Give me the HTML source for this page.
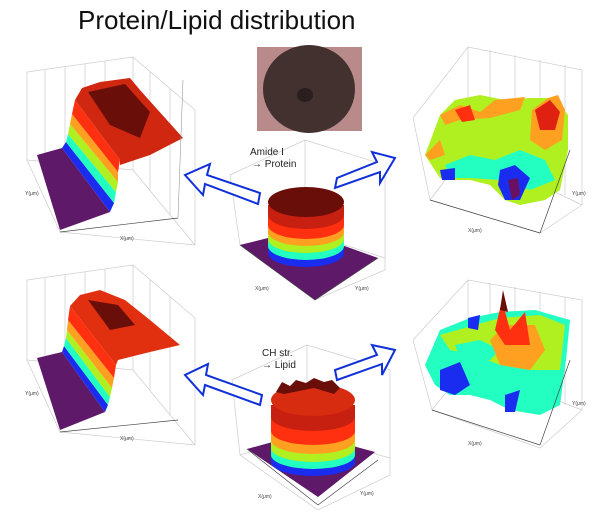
<!DOCTYPE html>
<html><head><meta charset="utf-8"><style>
html,body{margin:0;padding:0;background:#fff;}
svg{display:block;font-family:"Liberation Sans",sans-serif;}
</style></head><body>
<svg width="602" height="513" viewBox="0 0 602 513" xmlns="http://www.w3.org/2000/svg">
<text x="78" y="29" font-size="26" fill="#111">Protein/Lipid distribution</text>

<!-- photo -->
<rect x="257" y="47" width="105" height="84" fill="#b88a8a"/>
<ellipse cx="309" cy="89" rx="46" ry="44" fill="#433130"/>
<ellipse cx="305" cy="95" rx="8" ry="7" fill="#2a1e1e"/>

<!-- ===== Top-left plot ===== -->
<g stroke="#ccc" stroke-width="0.7" fill="none">
<polygon points="27,72 133,57 195,110 195,245 60,232 27,160"/>
<line x1="133" y1="57" x2="133" y2="170"/><line x1="133" y1="170" x2="27" y2="160"/><line x1="133" y1="170" x2="195" y2="245"/>
<line x1="45" y1="70" x2="45" y2="165"/><line x1="65" y1="67" x2="65" y2="166"/><line x1="85" y1="64" x2="85" y2="168"/><line x1="105" y1="61" x2="105" y2="169"/>
<line x1="150" y1="72" x2="150" y2="190"/><line x1="170" y1="89" x2="170" y2="215"/>
</g>
<polygon points="37,155 62,148 110,212 60,230" fill="#5e1a68"/>
<polygon points="62,148 66,142 114,203 110,212" fill="#1a2cf0"/>
<polygon points="66,142 68,134 116,192 114,203" fill="#22ffc0"/>
<polygon points="68,134 70,124 118,182 116,192" fill="#b0f020"/>
<polygon points="70,124 72,114 118,172 118,182" fill="#ffa020"/>
<polygon points="72,114 75,100 120,160 118,172" fill="#ff3010"/>
<polygon points="75,100 82,88 100,82 130,78 140,90 183,138 150,155 120,165 120,160" fill="#d02810"/>
<polygon points="88,92 125,84 150,112 140,138 110,125" fill="#6a0e0a"/>
<g font-size="5" fill="#444"><text x="25" y="195">Y(μm)</text><text x="120" y="240">X(μm)</text></g>
<line x1="60" y1="232" x2="178" y2="218" stroke="#444" stroke-width="0.7"/>
<line x1="178" y1="218" x2="183" y2="80" stroke="#888" stroke-width="0.5"/>

<!-- ===== Bottom-left plot ===== -->
<g stroke="#ccc" stroke-width="0.7" fill="none">
<polygon points="27,280 133,265 195,318 195,445 60,432 27,360"/>
<line x1="133" y1="265" x2="133" y2="370"/><line x1="133" y1="370" x2="27" y2="360"/><line x1="133" y1="370" x2="195" y2="445"/>
<line x1="45" y1="278" x2="45" y2="365"/><line x1="65" y1="275" x2="65" y2="366"/><line x1="85" y1="272" x2="85" y2="368"/><line x1="105" y1="269" x2="105" y2="369"/>
<line x1="150" y1="280" x2="150" y2="390"/><line x1="170" y1="297" x2="170" y2="415"/>
</g>
<polygon points="37,358 62,352 105,412 60,430" fill="#5e1a68"/>
<polygon points="62,352 64,346 108,405 105,412" fill="#1a2cf0"/>
<polygon points="64,346 66,338 110,397 108,405" fill="#22ffc0"/>
<polygon points="66,338 67,330 112,388 110,397" fill="#b0f020"/>
<polygon points="67,330 68,320 114,378 112,388" fill="#ffa020"/>
<polygon points="68,320 70,306 116,365 114,378" fill="#ff3010"/>
<polygon points="70,306 80,295 100,290 125,300 150,320 180,345 150,352 118,360 116,365" fill="#e03010"/>
<polygon points="88,300 118,305 135,325 110,330" fill="#6a0e0a"/>
<g font-size="5" fill="#444"><text x="25" y="395">Y(μm)</text><text x="120" y="440">X(μm)</text></g>
<line x1="60" y1="432" x2="178" y2="420" stroke="#444" stroke-width="0.7"/>

<!-- ===== Center top ===== -->
<g stroke="#ccc" stroke-width="0.7" fill="none">
<polygon points="230,175 305,140 385,165 385,270 315,300 240,245"/>
<line x1="305" y1="140" x2="305" y2="232"/><line x1="305" y1="232" x2="240" y2="245"/><line x1="305" y1="232" x2="385" y2="258"/>
</g>
<polygon points="240,245 300,230 378,258 315,300" fill="#5e1a68"/>
<path d="M268,205 v48 a38,14 0 0 0 76,0 v-48z" fill="#1a2cf0"/>
<path d="M268,205 v41 a38,14 0 0 0 76,0 v-41z" fill="#22ffc0"/>
<path d="M268,205 v34 a38,14 0 0 0 76,0 v-34z" fill="#b0f020"/>
<path d="M268,205 v27 a38,14 0 0 0 76,0 v-27z" fill="#ffa020"/>
<path d="M268,205 v20 a38,14 0 0 0 76,0 v-20z" fill="#ff3010"/>
<path d="M268,205 v10 a38,14 0 0 0 76,0 v-10z" fill="#c82010"/>
<ellipse cx="306" cy="202" rx="38" ry="15" fill="#6a0e0a"/>
<text x="250" y="155" font-size="10" fill="#222">Amide I</text>
<text x="252" y="167" font-size="10" fill="#222">→ Protein</text>
<g font-size="5" fill="#444"><text x="255" y="290">X(μm)</text><text x="355" y="290">Y(μm)</text></g>
<line x1="240" y1="245" x2="315" y2="300" stroke="#444" stroke-width="0.7"/><line x1="315" y1="300" x2="378" y2="258" stroke="#444" stroke-width="0.7"/>

<!-- ===== Center bottom ===== -->
<g stroke="#ccc" stroke-width="0.7" fill="none">
<polygon points="232,380 307,345 390,370 390,475 318,510 240,455"/>
<line x1="307" y1="345" x2="307" y2="435"/><line x1="307" y1="435" x2="240" y2="455"/><line x1="307" y1="435" x2="390" y2="458"/>
</g>
<polygon points="247,449 305,433 375,452 318,497" fill="#5e1a68"/>
<path d="M271,405 v57 a42,14 0 0 0 84,0 v-57z" fill="#1a2cf0"/>
<path d="M271,405 v50 a42,14 0 0 0 84,0 v-50z" fill="#22ffc0"/>
<path d="M271,405 v43 a42,14 0 0 0 84,0 v-43z" fill="#b0f020"/>
<path d="M271,405 v35 a42,14 0 0 0 84,0 v-35z" fill="#ffa020"/>
<path d="M271,405 v26 a42,14 0 0 0 84,0 v-26z" fill="#ff3010"/>
<path d="M271,405 v12 a42,14 0 0 0 84,0 v-12z" fill="#c82010"/>
<ellipse cx="313" cy="400" rx="42" ry="16" fill="#d82c10"/>
<path d="M276,392 l6,-10 8,4 6,-6 10,3 8,-5 10,4 8,-2 8,8 -6,6 -20,-6 -30,6z" fill="#6a0e0a"/>
<text x="262" y="356" font-size="10" fill="#222">CH str.</text>
<text x="262" y="368" font-size="10" fill="#222">→ Lipid</text>
<g font-size="5" fill="#444"><text x="258" y="498">X(μm)</text><text x="360" y="495">Y(μm)</text></g>
<line x1="247" y1="449" x2="318" y2="505" stroke="#444" stroke-width="0.7"/><line x1="318" y1="505" x2="378" y2="460" stroke="#444" stroke-width="0.7"/>

<!-- ===== Right top ===== -->
<g stroke="#ccc" stroke-width="0.7" fill="none">
<polygon points="413,118 468,47 582,70 582,205 540,233 430,200"/>
<line x1="468" y1="47" x2="468" y2="150"/><line x1="468" y1="150" x2="430" y2="200"/><line x1="468" y1="150" x2="582" y2="205"/>
<line x1="490" y1="50" x2="490" y2="160"/><line x1="515" y1="55" x2="515" y2="170"/><line x1="540" y1="60" x2="540" y2="180"/><line x1="565" y1="65" x2="565" y2="195"/>
</g>
<polygon points="425,155 440,115 455,100 480,95 505,100 530,98 555,98 568,115 568,150 560,190 545,200 520,205 505,200 490,185 470,180 450,180 440,178" fill="#b0f020"/>
<polygon points="440,115 460,105 480,112 495,100 525,97 520,110 490,118 460,120 445,125" fill="#ffa020"/>
<polygon points="455,110 470,105 475,120 462,122" fill="#ff3010"/>
<polygon points="532,110 548,98 558,95 565,110 562,140 545,150 530,140" fill="#ffa020"/>
<polygon points="535,110 550,100 560,112 555,130 540,130" fill="#e02010"/>
<polygon points="445,165 470,155 495,160 520,150 545,160 555,180 530,190 500,180 470,178 450,178" fill="#22ffc0"/>
<polygon points="500,170 515,165 530,178 520,200 505,200 498,185" fill="#1a2cf0"/>
<polygon points="508,180 518,178 520,195 512,200" fill="#6a1060"/>
<polygon points="440,170 455,168 455,180 442,180" fill="#1a2cf0"/>
<polygon points="425,155 440,140 445,155 430,160" fill="#ffa020"/>
<g font-size="5" fill="#444"><text x="468" y="232">X(μm)</text><text x="572" y="195">Y(μm)</text></g>
<line x1="430" y1="200" x2="540" y2="233" stroke="#444" stroke-width="0.7"/><line x1="540" y1="233" x2="570" y2="150" stroke="#444" stroke-width="0.7"/>

<!-- ===== Right bottom ===== -->
<g stroke="#ccc" stroke-width="0.7" fill="none">
<polygon points="413,340 468,280 582,300 582,410 540,448 432,410"/>
<line x1="468" y1="280" x2="468" y2="365"/><line x1="468" y1="365" x2="432" y2="410"/><line x1="468" y1="365" x2="582" y2="410"/>
<line x1="490" y1="283" x2="490" y2="375"/><line x1="515" y1="287" x2="515" y2="385"/><line x1="540" y1="292" x2="540" y2="395"/><line x1="565" y1="297" x2="565" y2="405"/>
</g>
<polygon points="425,365 440,330 470,318 500,312 535,310 570,320 566,360 560,405 540,415 510,410 490,400 470,395 450,395 435,385" fill="#22ffc0"/>
<polygon points="440,335 475,325 500,318 540,315 565,325 560,370 530,370 500,365 475,355 450,350" fill="#b0f020"/>
<polygon points="455,345 480,340 500,350 490,360 460,358" fill="#22ffc0"/>
<polygon points="490,340 505,325 535,325 545,350 530,370 500,365" fill="#ffa020"/>
<polygon points="495,330 502,300 510,330 525,312 530,345 505,345" fill="#ff3010"/>
<polygon points="500,310 503,290 508,312" fill="#6a0e0a"/>
<polygon points="440,370 460,362 470,385 455,395 440,390" fill="#1a2cf0"/>
<polygon points="468,318 480,315 478,330 468,328" fill="#1a2cf0"/>
<polygon points="505,395 520,390 515,412 505,412" fill="#1a2cf0"/>
<g font-size="5" fill="#444"><text x="468" y="445">X(μm)</text><text x="572" y="405">Y(μm)</text></g>
<line x1="432" y1="410" x2="540" y2="445" stroke="#444" stroke-width="0.7"/><line x1="540" y1="445" x2="570" y2="360" stroke="#444" stroke-width="0.7"/>

<!-- arrows -->
<g fill="#fff" stroke="#1030d8" stroke-width="2" stroke-linejoin="miter">
<polygon points="260,193 258,204 205,184 203,195 185,175 210,164 207,175"/>
<polygon points="337,178 335,188 380,172 380,183 395,158 372,152 377,162"/>
<polygon points="262,395 260,405 205,385 203,395 185,375 208,364 206,375"/>
<polygon points="335,370 337,380 382,364 382,375 395,350 372,345 377,355"/>
</g>
</svg>
</body></html>
